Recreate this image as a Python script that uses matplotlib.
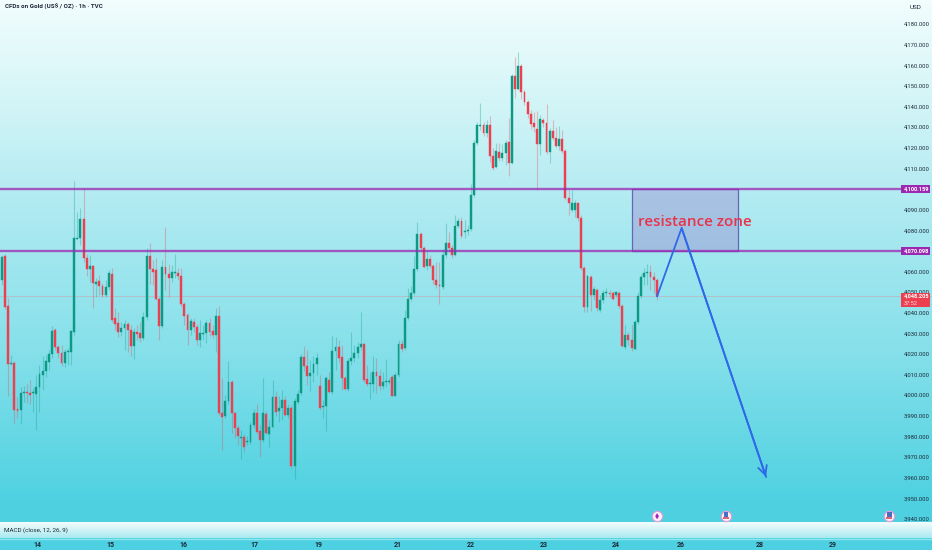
import numpy as np
import matplotlib
matplotlib.use('Agg')
import matplotlib.pyplot as plt
from matplotlib.colors import LinearSegmentedColormap
from matplotlib.patches import Rectangle

opens = [
    4056.1,4067.7,4043.5,4015.4,4015.8,3993.5,3993,4001.3,4001.8,4001.3,
    4001.3,4000.8,4004.2,4010,4012,4016.3,4020.2,4031.9,4023.6,4020.7,
    4015.8,4021.2,4021.2,4030.9,4076,4076.5,4085.7,4066.8,4061.4,4062.9,
    4054.2,4055.6,4053.2,4048.8,4052.7,4059,4037.7,4035.2,4030.9,4032.8,
    4034.8,4031.9,4024.1,4030.9,4030.4,4028,4038.2,4067.7,4061.4,4061,
    4046.9,4033.8,4062.4,4059,4057.1,4059.5,4059.5,4058,4044.5,4039.1,
    4031.9,4035.7,4033.3,4027,4029.9,4030.4,4035.2,4031.4,4029.4,4038.6,
    3991.6,3990.1,3997.4,4006.6,3991.6,3984.3,3979.5,3980,3977.5,3977.5,
    3985.8,3991.6,3982.9,3978.5,3991.1,3981.4,3984.8,3999.4,3992.6,3994,
    3997.9,3990.6,3994,3965.9,3997,4001.3,4018.8,4014.4,4009.5,4011,
    4015.4,4004.7,3994.5,3995,4007.6,4001.8,4021.7,4023.6,4018.8,4008.6,
    4003.2,4016.8,4018.3,4020.7,4023.6,4025.1,4008.1,4005.7,4005.7,4011.5,
    4009.5,4004.7,4006.6,4006.6,4009,3999.8,4010,4025.1,4023.1,4037.7,
    4046.9,4049.8,4061.4,4078.4,4071.6,4062.9,4066.3,4062.9,4056.1,4053.7,
    4052.7,4068.2,4074,4071.6,4068.2,4082.3,4084.7,4079.4,4079.9,4080.8,
    4097.3,4122.5,4130.8,4131.3,4127.4,4131.3,4116.2,4110.9,4118.2,4115.3,
    4117.7,4123,4112.9,4155,4148.7,4159.9,4147.3,4142.4,4136.6,4132.2,
    4129.3,4122,4133.7,4132.2,4118.2,4128.4,4125,4121.1,4124.5,4118.7,
    4095.9,4090,4090,4093.4,4086.2,4061.9,4043,4057.6,4048.8,4051.2,
    4041.6,4046.4,4049.8,4049.8,4049.8,4048.8,4049.8,4043.5,4023.6,4029.4,
    4027,4022.6,4035.7,4048.3,4057.6,4059.5,4060,4057.6,4056.1,
]
closes = [
    4067.3,4043,4015.4,4015.8,3993,3992.6,4001.3,4001.8,4001.3,4000.3,
    4001.8,4004.2,4010.5,4012,4016.8,4020.2,4031.4,4023.6,4020.7,4015.8,
    4021.2,4021.7,4031.4,4076.5,4076.5,4085.7,4066.8,4061.4,4062.9,4054.6,
    4055.1,4053.2,4048.8,4052.7,4059.5,4036.7,4034.8,4030.9,4032.8,4034.8,
    4031.9,4024.1,4030.9,4029.9,4028,4038.2,4067.7,4061.4,4060,4046.9,
    4033.8,4062.4,4059,4057.1,4060,4060,4058,4044.5,4038.6,4031.9,
    4036.2,4033.3,4027,4030.4,4030.4,4035.2,4030.9,4029.4,4038.6,3991.6,
    3989.7,3997.4,4006.6,3991.6,3984.3,3980.4,3980,3975.1,3978,3985.8,
    3991.6,3982.4,3978.5,3991.6,3981.9,3984.8,3999.4,3992.1,3994,3997.9,
    3990.6,3994,3965.9,3997.4,4000.8,4018.8,4014.4,4009.5,4011,4015.4,
    4018.3,3994,3995,4008.6,4001.8,4021.7,4023.6,4018.3,4008.6,4003.2,
    4016.8,4018.3,4020.7,4023.6,4025.1,4007.6,4005.7,4006.2,4011.5,4009.5,
    4004.7,4006.6,4007.1,4007.1,3999.8,4010,4025.1,4022.6,4037.7,4046.9,
    4049.8,4061.4,4078.4,4071.6,4062.4,4066.3,4062.9,4056.1,4053.7,4053.2,
    4068.2,4074,4071.6,4068.2,4082.3,4084.7,4077.4,4079.9,4080.4,4097.3,
    4122.5,4131.3,4131.3,4127.4,4131.3,4116.2,4110.4,4118.7,4115.3,4117.7,
    4122.5,4112.9,4155,4148.7,4159.9,4147.3,4142.4,4136.6,4131.8,4130.3,
    4122,4134.2,4132.2,4118.2,4128.4,4125,4121.1,4124.5,4118.7,4095.9,
    4093.4,4093.4,4093.4,4086.2,4061.9,4043,4058,4048.8,4051.7,4042.5,
    4046.4,4049.8,4050.3,4049.3,4046.9,4050.3,4043.5,4024.1,4029.4,4027,
    4023.1,4035.7,4048.3,4057.6,4059.5,4060,4057.6,4056.1,4048.2,
]
highs = [
    4068.2,4068.7,4047.4,4019.7,4016.8,3999.3,4004.2,4004.7,4005.7,4007.6,
    4003.7,4010,4014.9,4019.2,4019.7,4022.2,4033.8,4032.8,4024.6,4024.6,
    4022.6,4023.1,4031.9,4104.1,4089.1,4091,4100.7,4068.7,4068.2,4063.4,
    4057.1,4058.5,4054.6,4056.1,4061,4061.9,4042.5,4040.6,4035.7,4036.7,
    4035.7,4034.3,4032.8,4034.3,4035.7,4040.6,4071.6,4074,4065.8,4066.8,
    4047.9,4065.8,4081.8,4063.9,4063.4,4068.7,4061.9,4061.9,4045.4,4040.1,
    4037.7,4037.7,4034.8,4036.7,4034.3,4036.7,4037.7,4034.3,4042.5,4043.5,
    4008.6,4000.3,4016.8,4007.6,3992.1,3985.8,3983.4,3981.4,3980.4,3987.2,
    3993.5,3996,3985.8,4008.6,3992.6,3988.2,4007.6,4002.3,3999.8,4002.8,
    3999.8,3996,3995.5,3998.9,4002.8,4020.2,4024.1,4022.2,4017.3,4019.2,
    4020.7,4010,3997.9,4009.5,4011.5,4028.9,4028.4,4027,4024.6,4009.5,
    4018.3,4030.9,4024.6,4026,4040.6,4025.6,4014.9,4011.5,4019.2,4018.3,
    4012.5,4011.5,4017.8,4008.6,4010,4011.5,4027,4027,4041.5,4052.2,
    4053.2,4067.7,4084.2,4079.4,4072.6,4070.7,4068.2,4063.9,4064.8,4064.8,
    4071.1,4083.7,4079.4,4073.1,4087.6,4086.2,4086.6,4085.2,4082.8,4102.7,
    4124,4132.7,4141.9,4132.7,4133.7,4135.6,4120.1,4122.5,4122.5,4122.1,
    4124,4134.7,4156,4164.3,4166.7,4160.9,4148.2,4143.4,4138.5,4137.6,
    4138,4136.1,4134.7,4141.5,4129.8,4133.7,4130.3,4130.8,4128.9,4119.6,
    4099.7,4099.7,4094.9,4093.9,4087.6,4062.9,4058.5,4058.5,4053.2,4052.2,
    4048.8,4051.2,4052.2,4051.2,4050.8,4050.8,4050.8,4044.5,4034.3,4030.9,
    4034.3,4036.7,4050.3,4059,4061.9,4063.9,4063.4,4060,4057.1,
]
lows = [
    4053.7,4042,3999.8,4014.9,3986.7,3989.2,3986.3,3997,3996.4,3996,
    3992.1,3983.4,3992.1,4002.8,4009,4012.5,4018.3,4022.2,4018.3,4014.4,
    4013.9,4014.9,4014.9,4029.4,4075.5,4073.1,4064.8,4058,4055.1,4042.5,
    4047.9,4048.8,4047.9,4047.9,4051.2,4035.7,4031.9,4028.5,4028.9,4022.2,
    4021.2,4019.2,4017.8,4027,4026,4027,4036.7,4054.2,4053.7,4046.4,
    4027,4032.8,4051.2,4047.9,4055.1,4057.1,4056.1,4043.5,4034.3,4024.6,
    4029.4,4030.9,4024.6,4023.6,4027,4025.6,4028.9,4028,4021.2,3990.6,
    3973.7,3989.2,3996,3981.9,3979.5,3976.1,3969.3,3972.7,3976.1,3976.6,
    3984.3,3981.4,3970.3,3977.5,3981.4,3975.1,3984.3,3990.1,3987.2,3988.2,
    3990.1,3989.2,3964.9,3959.6,3996,4000.3,4012,4005.2,4002.3,4006.6,
    4010,3993,3989.2,3982.9,4001.3,4000.8,4012.5,4016.3,4002.8,4002.8,
    4002.3,4014.9,4016.3,4018.3,4022.2,4006.6,4004.7,3998.4,4001.8,4001.3,
    4002.8,4003.2,4004.2,4005.7,3999.8,3999.8,4009,4021.2,4022.2,4036.7,
    4045.9,4048.8,4060.5,4069.7,4061.9,4060.9,4061.9,4054.2,4052.2,4044.5,
    4051.7,4066.8,4069.7,4066.8,4067.7,4081.3,4076.5,4076.5,4077.9,4079.9,
    4096.4,4121.6,4128.9,4125.9,4125.5,4113.3,4109.4,4110.4,4113.8,4113.8,
    4111.9,4106.5,4112.4,4144.4,4148.2,4143.9,4141,4134.7,4129.3,4127.9,
    4099.7,4116.7,4130.3,4117.2,4112.9,4124,4120.1,4119.2,4117.7,4094.9,
    4087.6,4089.1,4086.7,4084.7,4060.9,4040.6,4040.6,4041.1,4046.4,4041.1,
    4040.6,4044.9,4048.3,4047.9,4046.4,4047.9,4042.5,4023.6,4022.6,4024.6,
    4021.7,4022.2,4034.8,4047.4,4053.7,4053.7,4051.2,4049.8,4046.6,
]

day_labels = ['14', '15', '16', '17', '19', '21', '22', '23', '24', '26', '28', '29']
day_pos = [11.2, 34.4, 57.6, 80.4, 100.7, 125.8, 149, 172.2, 195, 215.7, 240.7, 263.9]
price_ticks = list(range(3940, 4181, 10))
hidden_ticks = [4100, 4070]

level_high = 4100.159
level_low = 4070.098
last_price = 4048.205
countdown = '37:52'

zone_start, zone_end = 200.2, 233.8
path_x = [208.1, 215.9, 242.7]
path_y = [4048.2, 4081.3, 3960.6]
event_x = [208.1, 230.0, 281.8]

GREEN = '#0c9a85'
RED = '#ec3f50'
PURPLE = '#9c27b0'
BLUE = '#2f68e8'
TEXT = '#1d2a3a'

# chart fills the whole canvas, one index = 3.149 px, one dollar = 2.062 px
x0, x1 = -0.54, 295.4
y0, y1 = 3925.1, 4191.9
label_x = 286.5
tag_x = 285.6
tag_w = 9.2

plt.rcParams['font.family'] = ['Roboto', 'DejaVu Sans']
fig = plt.figure(figsize=(9.32, 5.5), dpi=100)
ax = fig.add_axes([0, 0, 1, 1])
ax.axis('off')

bg = LinearSegmentedColormap.from_list('bg', [
    (0.0, '#f2fdfd'), (0.18, '#d4f5f7'), (0.36, '#b2ebf2'),
    (0.64, '#85e0ea'), (0.91, '#4fd1e1'), (1.0, '#4dd0e1')])
ax.imshow(np.linspace(0, 1, 256).reshape(-1, 1), cmap=bg, aspect='auto',
          extent=[x0, x1, y0, y1], zorder=0, origin='upper')

# macd pane strip at the bottom
strip = LinearSegmentedColormap.from_list('strip', ['#f4fdfe', '#a9e9f0'])
ax.imshow(np.linspace(0, 1, 64).reshape(-1, 1), cmap=strip, aspect='auto',
          extent=[x0, x1, 3931.0, 3938.4], zorder=5, origin='upper')
ax.axhline(3930.4, color='#8fe6ee', lw=1.0, zorder=5)

x = np.arange(len(opens))
o = np.array(opens)
c = np.array(closes)
colors = [GREEN if ci >= oi else RED for oi, ci in zip(o, c)]

ax.vlines(x, lows, highs, colors=colors, lw=0.8, alpha=0.32, zorder=2)
ax.bar(x, np.abs(c - o), bottom=np.minimum(o, c), width=0.6, color=colors,
       edgecolor=colors, linewidth=0.3, zorder=3)

ax.plot([x0, x1], [last_price, last_price], color='#e08a96', lw=0.6, alpha=0.45, zorder=1)

ax.add_patch(Rectangle((zone_start, level_low), zone_end - zone_start, level_high - level_low,
                       facecolor='#9a80cc', alpha=0.38, edgecolor='none', zorder=4))
ax.add_patch(Rectangle((zone_start, level_low), zone_end - zone_start, level_high - level_low,
                       facecolor='none', edgecolor='#6a63b8', lw=0.9, zorder=4))

for level in [level_high, level_low]:
    ax.plot([x0, tag_x], [level, level], color=PURPLE, lw=1.7, alpha=0.75, zorder=4)

ax.text(220.0, 4084.2, 'resistance zone', color='#e8334a', family=['Open Sans', 'DejaVu Sans'],
        fontsize=10.9, fontweight='semibold', ha='center', va='center', zorder=6)

ax.plot(path_x, path_y, color=BLUE, lw=1.3, zorder=6)
ax.annotate('', xy=(path_x[2], path_y[2]), xytext=(path_x[1], path_y[1]), zorder=6,
            arrowprops=dict(arrowstyle='->', color=BLUE, lw=1.3, mutation_scale=16,
                            shrinkA=0, shrinkB=0))

# price scale
for p in price_ticks:
    if p in hidden_ticks:
        continue
    ax.text(label_x, p, f'{p:,}.000', fontsize=4.2, color=TEXT, va='center', ha='left', zorder=7)

for level in [level_high, level_low]:
    ax.add_patch(Rectangle((tag_x, level - 1.95), tag_w, 3.9, fc=PURPLE, ec='none', zorder=8))
    ax.text(label_x, level, f'{level:,.3f}', fontsize=4.1, color='white', fontweight='bold',
            va='center', ha='left', zorder=9)

ax.add_patch(Rectangle((tag_x, last_price - 5.2), tag_w, 6.9, fc=RED, ec='none', zorder=8))
ax.text(label_x, last_price, f'{last_price:,.3f}', fontsize=4.1, color='white',
        fontweight='bold', va='center', ha='left', zorder=9)
ax.text(label_x, last_price - 3.4, countdown, fontsize=4.1, color='#ffe3e6',
        va='center', ha='left', zorder=9)

# date scale
for d, pos in zip(day_labels, day_pos):
    ax.text(pos, 3927.6, d, fontsize=5, color=TEXT, fontweight='bold', va='center', ha='center', zorder=7)

# event badges on the time axis
ax.scatter(event_x, [3941.5] * 3, s=55, facecolor='#fbf0f6', edgecolor='#e79ad6', lw=0.8, zorder=6)
ax.scatter(event_x[:1], [3941.5], s=10, marker='d', facecolor='#a020c0', edgecolor='none', zorder=7)
ax.scatter(event_x[1:], [3942.3] * 2, s=12, marker='s', facecolor='#4a6fc0', edgecolor='none', zorder=7)
ax.scatter(event_x[1:], [3940.6] * 2, s=16, marker='_', color='#d8485a', linewidth=1.2, zorder=7)

ax.text(1.0, 4188.4, 'CFDs on Gold (US$ / OZ) · 1h · TVC', fontsize=4.5, fontweight='bold',
        color=TEXT, va='center', ha='left', zorder=7)
ax.text(288.4, 4188.4, 'USD', fontsize=4.6, color=TEXT, va='center', ha='left', zorder=7)
ax.text(0.6, 3934.8, 'MACD (close, 12, 26, 9)', fontsize=4.5, color=TEXT, va='center', ha='left', zorder=7)

ax.set_xlim(x0, x1)
ax.set_ylim(y0, y1)
fig.savefig('out.png', dpi=100)
